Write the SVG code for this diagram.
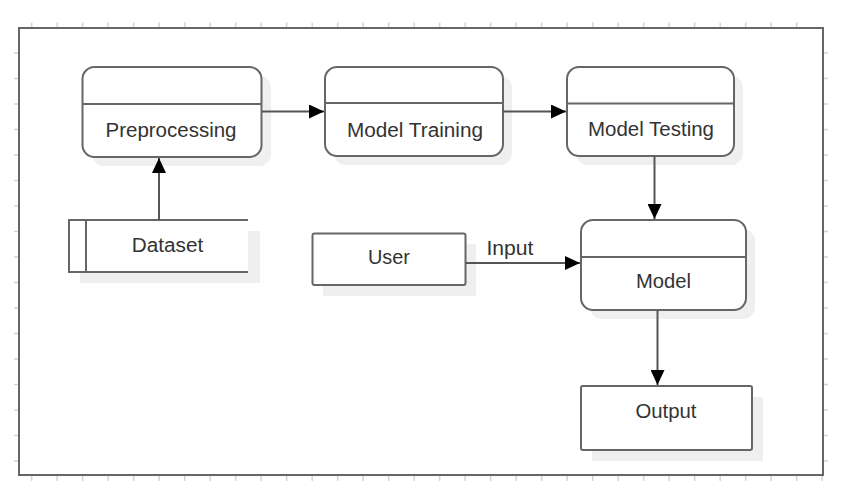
<svg xmlns="http://www.w3.org/2000/svg" width="857" height="490" viewBox="0 0 857 490">
<style>
.node{fill:#fff;stroke:#666;stroke-width:2}
.shadow{fill:#efefef;stroke:none}
.div{stroke:#666;stroke-width:2;fill:none}
.lbl{font-family:"Liberation Sans",Arial,sans-serif;font-size:19.5px;fill:#333;text-anchor:middle}
.conn{stroke:#555;stroke-width:2;fill:none;marker-end:url(#arr)}
.tick{stroke:#d4d4d4;stroke-width:1.5;fill:none}
</style>
<defs>
<marker id="arr" markerUnits="userSpaceOnUse" markerWidth="16" markerHeight="14" refX="15" refY="7" orient="auto">
<path d="M0,0 L15,7 L0,14 Z" fill="#000"/>
</marker>
</defs>
<rect width="857" height="490" fill="#fff"/>
<path class="tick" d="M31.7,22.5v5.5M57.2,22.5v5.5M82.7,22.5v5.5M108.2,22.5v5.5M133.7,22.5v5.5M159.2,22.5v5.5M184.7,22.5v5.5M210.2,22.5v5.5M235.7,22.5v5.5M261.2,22.5v5.5M286.7,22.5v5.5M312.2,22.5v5.5M337.7,22.5v5.5M363.2,22.5v5.5M388.7,22.5v5.5M414.2,22.5v5.5M439.7,22.5v5.5M465.2,22.5v5.5M490.7,22.5v5.5M516.2,22.5v5.5M541.7,22.5v5.5M567.2,22.5v5.5M592.7,22.5v5.5M618.2,22.5v5.5M643.7,22.5v5.5M669.2,22.5v5.5M694.7,22.5v5.5M720.2,22.5v5.5M745.7,22.5v5.5M771.2,22.5v5.5M796.7,22.5v5.5
M31.7,475v6M57.2,475v6M82.7,475v6M108.2,475v6M133.7,475v6M159.2,475v6M184.7,475v6M210.2,475v6M235.7,475v6M261.2,475v6M286.7,475v6M312.2,475v6M337.7,475v6M363.2,475v6M388.7,475v6M414.2,475v6M439.7,475v6M465.2,475v6M490.7,475v6M516.2,475v6M541.7,475v6M567.2,475v6M592.7,475v6M618.2,475v6M643.7,475v6M669.2,475v6M694.7,475v6M720.2,475v6M745.7,475v6M771.2,475v6M796.7,475v6M822.2,475v6
M14,53h5M14,78.5h5M14,104h5M14,129.5h5M14,155h5M14,180.5h5M14,206h5M14,231.5h5M14,257h5M14,282.5h5M14,308h5M14,333.5h5M14,359h5M14,384.5h5M14,410h5M14,435.5h5M14,461h5
M823,53h5M823,78.5h5M823,104h5M823,129.5h5M823,155h5M823,180.5h5M823,206h5M823,231.5h5M823,257h5M823,282.5h5M823,308h5M823,333.5h5M823,359h5M823,384.5h5M823,410h5M823,435.5h5M823,461h5"/>
<rect x="19" y="28" width="804" height="447" fill="#fff" stroke="#666" stroke-width="2"/>

<g id="preprocessing">
<rect class="shadow" x="92" y="76" width="179" height="90" rx="12"/>
<rect class="node" x="82.5" y="67" width="179" height="90" rx="12"/>
<path class="div" d="M82.5,104H261.5"/>
<text class="lbl" x="171" y="137" textLength="131" lengthAdjust="spacingAndGlyphs">Preprocessing</text>
</g>

<g id="model-training">
<rect class="shadow" x="334" y="76" width="178" height="89" rx="12"/>
<rect class="node" x="325" y="67" width="178" height="89" rx="12"/>
<path class="div" d="M325,103H503"/>
<text class="lbl" x="415" y="137" textLength="136" lengthAdjust="spacingAndGlyphs">Model Training</text>
</g>

<g id="model-testing">
<rect class="shadow" x="576" y="76" width="167" height="89" rx="12"/>
<rect class="node" x="567" y="67" width="167" height="89" rx="12"/>
<path class="div" d="M567,103.5H734"/>
<text class="lbl" x="651" y="136" textLength="126" lengthAdjust="spacingAndGlyphs">Model Testing</text>
</g>

<g id="dataset">
<rect class="shadow" x="80" y="231" width="180" height="52"/>
<rect x="69" y="220" width="179" height="52" fill="#fff" stroke="none"/>
<path class="div" d="M248,220H69V272H248M86,220V272"/>
<text class="lbl" x="167.5" y="252.3" textLength="71.5" lengthAdjust="spacingAndGlyphs">Dataset</text>
</g>

<g id="user">
<rect class="shadow" x="323" y="244" width="153" height="52"/>
<rect class="node" x="312.5" y="233.5" width="153" height="51.5" rx="2"/>
<text class="lbl" x="389" y="264.3" textLength="42" lengthAdjust="spacingAndGlyphs">User</text>
</g>

<g id="model">
<rect class="shadow" x="590" y="229" width="165" height="90" rx="12"/>
<rect class="node" x="581" y="220" width="165" height="90" rx="12"/>
<path class="div" d="M581,257H746"/>
<text class="lbl" x="663.5" y="288.3" textLength="55" lengthAdjust="spacingAndGlyphs">Model</text>
</g>

<g id="output">
<rect class="shadow" x="592" y="397" width="171" height="64"/>
<rect class="node" x="581" y="386" width="171" height="64" rx="2"/>
<text class="lbl" x="666" y="417.7" textLength="61" lengthAdjust="spacingAndGlyphs">Output</text>
</g>

<g id="connectors">
<path class="conn" d="M262,111.5H324"/>
<path class="conn" d="M503,111.5H566"/>
<path class="conn" d="M159,220V158"/>
<path class="conn" d="M654.5,156V219"/>
<path class="conn" d="M466,263H580"/>
<text class="lbl" x="510" y="255" textLength="47" lengthAdjust="spacingAndGlyphs">Input</text>
<path class="conn" d="M657.5,310V385"/>
</g>
</svg>
